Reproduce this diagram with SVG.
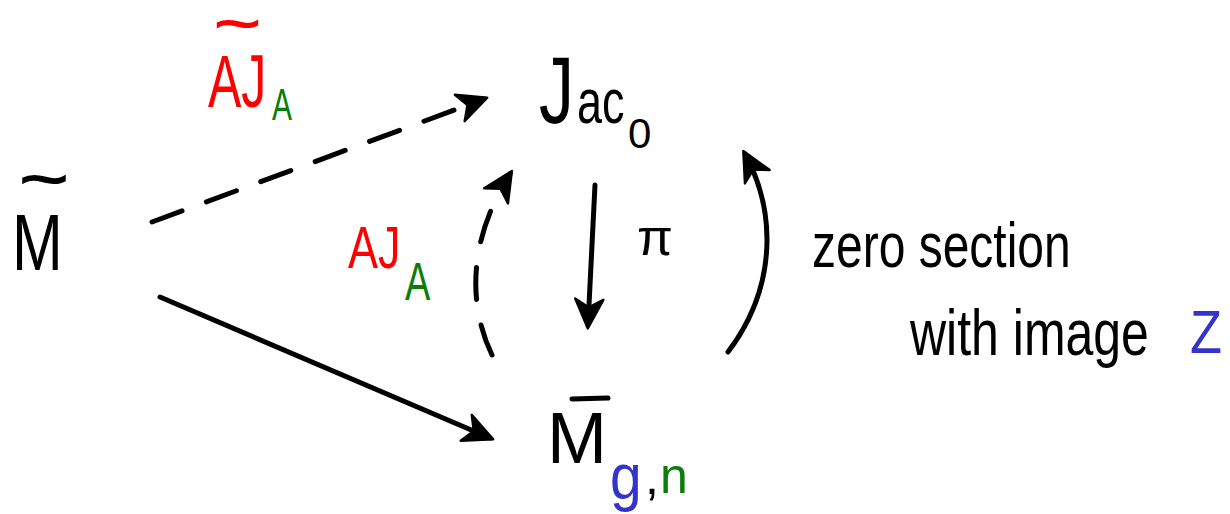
<svg xmlns="http://www.w3.org/2000/svg" width="1230" height="514" viewBox="0 0 1230 514">
  <style>
    text { font-family: "Liberation Sans", "DejaVu Sans", sans-serif; }
    .ink { fill: #000; }
    .red { fill: #ff0000; }
    .green { fill: #0a7d0a; }
    .blue { fill: #3434cc; }
    .conn { fill: none; stroke: #000; stroke-width: 5; stroke-linecap: round; }
    .dash { stroke-dasharray: 32 26; }
  </style>
  <defs>
    <marker id="head" markerUnits="userSpaceOnUse" markerWidth="40" markerHeight="40" viewBox="-30 -16 34 32" refX="-3" refY="0" orient="auto">
      <path d="M0,0 L-25,-12 L-18,0 L-25,12 Z" fill="#000" stroke="#000" stroke-width="2" stroke-linejoin="round"/>
    </marker>
  </defs>
  <rect width="1230" height="514" fill="#fff"/>

  <g id="connectors">
    <path class="conn dash" d="M152,222 L484,99" marker-end="url(#head)"/>
    <path class="conn" d="M160,297 L490,438" marker-end="url(#head)"/>
    <path class="conn" d="M595,185 L588,325" marker-end="url(#head)"/>
    <path class="conn dash" d="M492,355 C468,305 468,240 510,174" marker-end="url(#head)"/>
    <path class="conn" d="M728,352 C775,290 778,215 745,154" marker-end="url(#head)"/>
  </g>

  <g id="node-M-tilde">
    <text x="20" y="198" font-size="56" textLength="48" lengthAdjust="spacingAndGlyphs" stroke="#000" stroke-width="2" class="ink">~</text>
    <text transform="translate(12,270) scale(1,1.32)" x="0" y="0" font-size="61" class="ink">M</text>
  </g>

  <g id="node-Jac0">
    <text transform="translate(539,123) scale(1,1.36)" x="0" y="0" font-size="70" class="ink">J</text>
    <text transform="translate(577,123) scale(1,1.38)" x="0" y="0" font-size="45" class="ink">ac</text>
    <text x="628" y="148" font-size="42" class="ink">0</text>
  </g>

  <g id="node-Mbar-gn">
    <line x1="572" y1="399" x2="608" y2="398" stroke="#000" stroke-width="5" stroke-linecap="round"/>
    <text x="547" y="463" font-size="72" textLength="60" lengthAdjust="spacingAndGlyphs" class="ink">M</text>
    <text transform="translate(610,499) scale(1,1.15)" x="0" y="0" font-size="57" class="blue">g</text>
    <text x="645" y="494" font-size="50" class="ink">,</text>
    <text x="660" y="493" font-size="50" class="green">n</text>
  </g>

  <g id="label-AJA-tilde">
    <text x="215" y="40" font-size="46" textLength="45" lengthAdjust="spacingAndGlyphs" stroke="#ff0000" stroke-width="2" class="red">~</text>
    <text transform="translate(208,107) scale(1,1.48)" x="0" y="0" font-size="50" class="red">AJ</text>
    <text transform="translate(272,120) scale(1,1.5)" x="0" y="0" font-size="30" class="green">A</text>
  </g>

  <g id="label-AJA">
    <text transform="translate(348,268) scale(1,1.33)" x="0" y="0" font-size="45" class="red">AJ</text>
    <text transform="translate(405,300) scale(1,1.4)" x="0" y="0" font-size="38" class="green">A</text>
  </g>

  <g id="label-pi">
    <text x="637" y="255" font-size="52" class="ink">π</text>
  </g>

  <g id="label-zero-section">
    <text transform="translate(812,267) scale(1,1.3)" x="0" y="0" font-size="48" class="ink">zero section</text>
    <text transform="translate(910,355) scale(1,1.3)" x="0" y="0" font-size="50" class="ink">with image</text>
    <text x="1190" y="353" font-size="62" textLength="32" lengthAdjust="spacingAndGlyphs" class="blue">Z</text>
  </g>
</svg>
